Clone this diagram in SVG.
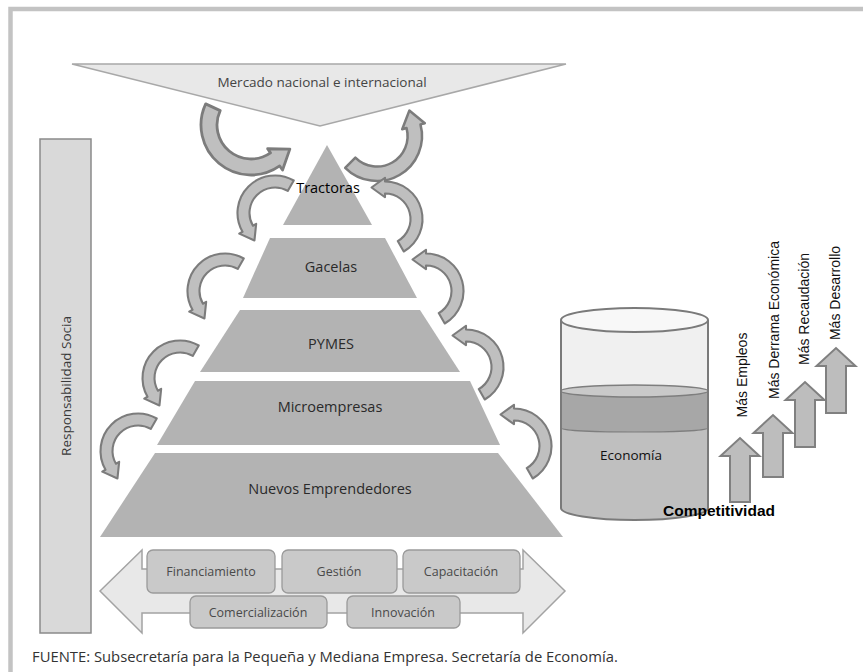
<svg xmlns="http://www.w3.org/2000/svg" xmlns:xlink="http://www.w3.org/1999/xlink" width="863" height="672" viewBox="0 0 863 672">
<style>
.lbl{font-family:"Open Sans","Liberation Sans",sans-serif;fill:#2a2a2a;text-anchor:middle}
.box{fill:#c9c9c9;stroke:#9a9a9a;stroke-width:1.3}
.boxt{font-family:"Open Sans","Liberation Sans",sans-serif;font-size:12.5px;fill:#4a4a4a;text-anchor:middle}
.layer{fill:#b3b3b3}
.carrow{fill:#bfbfbf;stroke:#7c7c7c;stroke-width:1.4;stroke-linejoin:round}
.uarrow{fill:#bdbdbd;stroke:#808080;stroke-width:2}
.rot{font-family:"Liberation Sans",Arial,sans-serif;font-size:14px;fill:#111;text-anchor:middle}
</style>
<defs>
<path id="ca" d="M12.5,-21.65 A25,25 0 0 0 -21.65,12.5 L-23.82,13.75 L-13.69,18.29 L-12.56,7.25 L-14.72,8.5 A17,17 0 0 1 8.5,-14.72 Z"/>
</defs>
<rect width="863" height="672" fill="#fff"/>
<path d="M10.5,672 V9 H863" fill="none" stroke="#c3c3c3" stroke-width="4.5"/>

<g id="mercado">
<polygon points="72,64 566,64 320,126" fill="#e8e8e8" stroke="#a8a8a8" stroke-width="1.5"/>
<text class="lbl" x="322" y="87" font-size="13.5" style="fill:#444">Mercado nacional e internacional</text>
</g>

<g id="responsabilidad">
<rect x="40" y="139" width="51" height="494" fill="#d9d9d9" stroke="#8a8a8a" stroke-width="1.5"/>
<text class="lbl" transform="translate(71,386) rotate(-90)" font-size="13.5" style="fill:#3a3a3a">Responsabilidad Socia</text>
</g>

<g id="nuevos">
<polygon class="layer" points="155,453 498,453 563,537 100,537"/>
<text class="lbl" x="330" y="494" font-size="14.5">Nuevos Emprendedores</text>
</g>
<g id="microempresas">
<polygon class="layer" points="195,381 470,381 500,445 157,445"/>
<text class="lbl" x="330" y="412" font-size="14.5">Microempresas</text>
</g>
<g id="pymes">
<polygon class="layer" points="240,310 420,310 460,372 200,372"/>
<text class="lbl" x="331" y="349" font-size="14.5">PYMES</text>
</g>
<g id="gacelas">
<polygon class="layer" points="270,238 385,238 417,298 243,298"/>
<text class="lbl" x="331" y="272" font-size="14.5">Gacelas</text>
</g>
<g id="tractoras">
<polygon class="layer" points="327,145 372,225 283,225"/>
</g>

<g id="connectors">
<use xlink:href="#ca" class="carrow" transform="translate(251,125) rotate(-95) scale(2)"/>
<use xlink:href="#ca" class="carrow" transform="translate(377,136) rotate(-165) scale(1.8)"/>
<use xlink:href="#ca" class="carrow" transform="translate(275,213) scale(1.5)"/>
<use xlink:href="#ca" class="carrow" transform="translate(225,291) scale(1.5)"/>
<use xlink:href="#ca" class="carrow" transform="translate(180,378) scale(1.5)"/>
<use xlink:href="#ca" class="carrow" transform="translate(138,451) scale(1.5)"/>
<use xlink:href="#ca" class="carrow" transform="translate(385,219) rotate(120) scale(1.5)"/>
<use xlink:href="#ca" class="carrow" transform="translate(426,291) rotate(120) scale(1.5)"/>
<use xlink:href="#ca" class="carrow" transform="translate(466,367) rotate(120) scale(1.5)"/>
<use xlink:href="#ca" class="carrow" transform="translate(514,446) rotate(120) scale(1.5)"/>
</g>

<text class="lbl" x="328" y="193" font-size="14.5" style="fill:#000">Tractoras</text>

<g id="apoyos">
<polygon points="100,591 142,550 142,569 523,569 523,550 565,591 523,633 523,613 142,613 142,633" fill="#e8e8e8" stroke="#a3a3a3" stroke-width="1.5"/>
</g>
<g id="financiamiento"><rect class="box" x="147" y="550" width="128" height="43" rx="6"/><text class="boxt" x="211" y="576">Financiamiento</text></g>
<g id="gestion"><rect class="box" x="282" y="550" width="115" height="43" rx="6"/><text class="boxt" x="339" y="576">Gestión</text></g>
<g id="capacitacion"><rect class="box" x="403" y="550" width="117" height="43" rx="6"/><text class="boxt" x="461" y="576">Capacitación</text></g>
<g id="comercializacion"><rect class="box" x="190" y="596" width="137" height="32" rx="6"/><text class="boxt" x="258" y="617">Comercialización</text></g>
<g id="innovacion"><rect class="box" x="347" y="596" width="113" height="32" rx="6"/><text class="boxt" x="403" y="617">Innovación</text></g>

<g id="economia">
<path d="M561,320 V508 A73.5,12 0 0 0 708,508 V320 Z" fill="#f0f0f0"/>
<path d="M561,391 V508 A73.5,12 0 0 0 708,508 V391 Z" fill="#bfbfbf"/>
<path d="M561,391 V428 A73.5,4 0 0 0 708,428 V391 Z" fill="#a7a7a7" stroke="#7e7e7e" stroke-width="1.2"/>
<ellipse cx="634.5" cy="391" rx="73.5" ry="6" fill="#c9c9c9" stroke="#7e7e7e" stroke-width="1.5"/>
<path d="M561,320 V508 A73.5,12 0 0 0 708,508 V320" fill="none" stroke="#7a7a7a" stroke-width="2"/>
<ellipse cx="634.5" cy="320" rx="73.5" ry="12" fill="#f8f8f8" stroke="#7a7a7a" stroke-width="2"/>
<text class="lbl" x="631" y="460" font-size="13.5" style="fill:#111">Economía</text>
</g>

<g id="crecimiento">
<polygon class="uarrow" points="730,502 750,502 750,456 759.5,456 740,438 720.5,456 730,456"/>
<polygon class="uarrow" points="763,477 783,477 783,433 792.5,433 773,415 753.5,433 763,433"/>
<polygon class="uarrow" points="795,447 815,447 815,400 824.5,400 805,382 785.5,400 795,400"/>
<polygon class="uarrow" points="826,413 846,413 846,366 855.5,366 836,348 816.5,366 826,366"/>
<text class="rot" transform="translate(747,375) rotate(-90)">Más Empleos</text>
<text class="rot" transform="translate(779,320) rotate(-90)">Más Derrama Económica</text>
<text class="rot" transform="translate(809,309) rotate(-90)">Más Recaudación</text>
<text class="rot" transform="translate(840,293) rotate(-90)">Más Desarrollo</text>
</g>
<text x="719" y="516" font-family="Liberation Sans, Arial, sans-serif" font-size="15.5" font-weight="bold" fill="#000" text-anchor="middle">Competitividad</text>

<text x="32" y="662" font-family="Open Sans, Liberation Sans, sans-serif" font-size="14.8" fill="#333">FUENTE: Subsecretaría para la Pequeña y Mediana Empresa. Secretaría de Economía.</text>
</svg>
